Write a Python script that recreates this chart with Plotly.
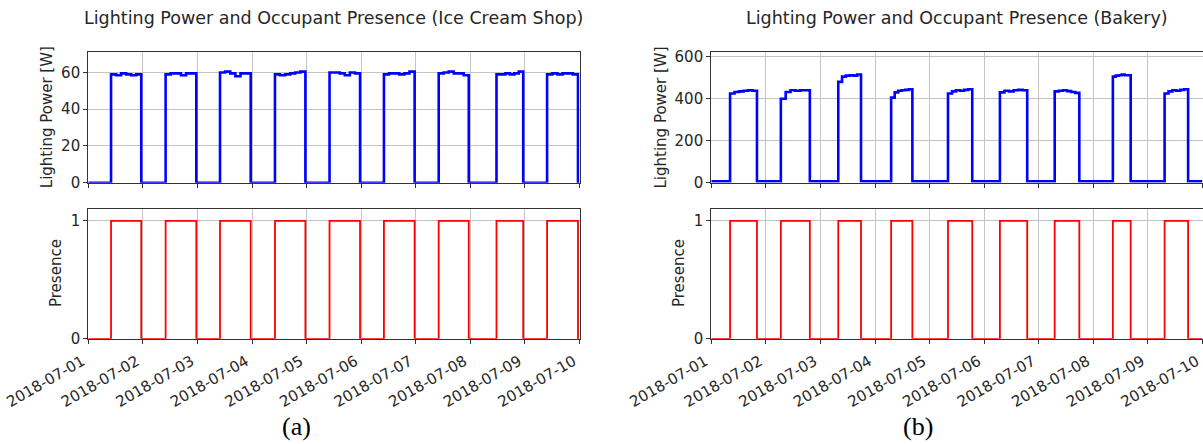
import plotly.graph_objects as go
import pandas as pd

# ---------------- data ----------------
days = ["2018-07-01", "2018-07-02", "2018-07-03", "2018-07-04", "2018-07-05",
        "2018-07-06", "2018-07-07", "2018-07-08", "2018-07-09"]
tick_labels = ["2018-07-01", "2018-07-02", "2018-07-03", "2018-07-04", "2018-07-05",
               "2018-07-06", "2018-07-07", "2018-07-08", "2018-07-09", "2018-07-10"]

# Ice cream shop: occupied periods (time of day on / off)
ice_on = ["10:00", "10:00", "09:55", "10:05", "10:05", "10:00", "10:05", "11:30", "09:45"]
ice_off = ["23:17", "23:30", "23:25", "23:28", "23:30", "23:30", "23:18", "23:15", "23:20"]
# lighting level samples across each occupied period [W]
ice_levels = [
    [59.0, 58.5, 59.5, 59.0, 58.5, 59.0],
    [59.0, 59.5, 59.5, 58.5, 59.5, 59.5],
    [60.0, 60.5, 59.5, 58.0, 59.5, 59.5],
    [59.0, 58.5, 59.0, 59.5, 60.0, 60.5],
    [60.0, 60.0, 59.5, 58.5, 60.0, 59.5],
    [59.0, 59.5, 59.5, 59.0, 59.5, 60.5],
    [59.5, 60.0, 60.5, 59.5, 59.5, 58.5],
    [59.0, 59.0, 59.5, 59.0, 59.5, 60.5],
    [59.0, 59.5, 59.0, 59.5, 59.5, 59.0],
]
ice_base = 0.0

# Bakery: occupied periods (time of day on / off)
bak_on = ["08:15", "06:35", "07:50", "07:05", "08:05", "06:55", "07:00", "08:35", "07:20"]
bak_off = ["20:05", "19:20", "17:50", "16:25", "18:45", "18:55", "17:50", "16:25", "17:40"]
bak_levels = [
    [425, 432, 435, 438, 440, 438],
    [400, 432, 440, 438, 440, 440],
    [480, 505, 510, 512, 510, 515],
    [405, 430, 438, 440, 442, 445],
    [425, 435, 440, 438, 442, 445],
    [430, 438, 435, 440, 442, 440],
    [435, 438, 440, 436, 432, 428],
    [505, 510, 512, 515, 512, 512],
    [425, 435, 440, 438, 442, 445],
]
bak_base = 7.0

period_end = "2018-07-10 00:00"


def build(on, off, levels, base):
    """Step series for lighting and presence from the read on/off table."""
    lx, ly, px, py = ["2018-07-01 00:00"], [base], ["2018-07-01 00:00"], [0]
    for d, t_on, t_off, lev in zip(days, on, off, levels):
        t0 = pd.Timestamp(f"{d} {t_on}")
        t1 = pd.Timestamp(f"{d} {t_off}")
        step = (t1 - t0) / len(lev)
        for k, v in enumerate(lev):
            lx.append(t0 + step * k)
            ly.append(v)
        lx.append(t1)
        ly.append(base)
        px += [t0, t1]
        py += [1, 0]
    lx.append(pd.Timestamp(period_end))
    ly.append(base)
    px.append(pd.Timestamp(period_end))
    py.append(0)
    return lx, ly, px, py


ice = build(ice_on, ice_off, ice_levels, ice_base)
bak = build(bak_on, bak_off, bak_levels, bak_base)

# ---------------- figure ----------------
W, H = 1203, 444
fig = go.Figure()

BLUE = "#0000ff"
RED = "#ff0000"

panels = [
    ("x", "y", ice[0], ice[1], BLUE),
    ("x2", "y2", ice[2], ice[3], RED),
    ("x3", "y3", bak[0], bak[1], BLUE),
    ("x4", "y4", bak[2], bak[3], RED),
]
for xa, ya, xs, ys, col in panels:
    fig.add_trace(go.Scatter(x=xs, y=ys, xaxis=xa, yaxis=ya, mode="lines",
                             line=dict(color=col, width=2.6 if col == BLUE else 1.8,
                                       shape="hv"),
                             showlegend=False, hoverinfo="skip"))

FONT = "DejaVu Sans"
TXT = "#262626"
GRID = "#c4c4c4"
TICK_SIZE = 15
LABEL_SIZE = 15
TITLE_SIZE = 17.5
tickvals = [pd.Timestamp(t) for t in tick_labels]

left_dom = [88.3 / W, 579.5 / W]
right_dom = [711.3 / W, 1202.5 / W]
top_dom = [1 - 182.7 / H, 1 - 52.3 / H]
bot_dom = [1 - 338.8 / H, 1 - 208.5 / H]


def xaxis(dom, anchor, labels):
    return dict(domain=dom, anchor=anchor, type="date", automargin=False,
                range=[tickvals[0], tickvals[-1]],
                tickmode="array", tickvals=tickvals,
                ticktext=tick_labels if labels else [""] * len(tick_labels),
                showticklabels=labels, tickangle=-30, ticklabeloverflow="allow",
                ticklabelshift=-6, ticklabelstandoff=3,
                ticks="outside", ticklen=4, tickwidth=1, tickcolor="#333",
                showgrid=True, gridcolor=GRID, gridwidth=1,
                showline=True, linecolor="#333", linewidth=1.2, mirror=True,
                zeroline=False,
                tickfont=dict(family=FONT, size=TICK_SIZE, color=TXT))


def yaxis(dom, anchor, rng, tv):
    return dict(domain=dom, anchor=anchor, range=rng, automargin=False,
                tickmode="array", tickvals=tv, ticklabeloverflow="allow",
                ticks="outside", ticklen=4, tickwidth=1, tickcolor="#333",
                showgrid=True, gridcolor=GRID, gridwidth=1,
                showline=True, linecolor="#333", linewidth=1.2, mirror=True,
                zeroline=False,
                tickfont=dict(family=FONT, size=TICK_SIZE, color=TXT))


fig.update_layout(
    width=W, height=H,
    margin=dict(l=0, r=0, t=0, b=0, autoexpand=False),
    paper_bgcolor="white", plot_bgcolor="white",
    xaxis=xaxis(left_dom, "y", False),
    yaxis=yaxis(top_dom, "x", [0, 71], [0, 20, 40, 60]),
    xaxis2=xaxis(left_dom, "y2", True),
    yaxis2=yaxis(bot_dom, "x2", [0, 1.105], [0, 1]),
    xaxis3=xaxis(right_dom, "y3", False),
    yaxis3=yaxis(top_dom, "x3", [0, 621], [0, 200, 400, 600]),
    xaxis4=xaxis(right_dom, "y4", True),
    yaxis4=yaxis(bot_dom, "x4", [0, 1.105], [0, 1]),
)

# y-axis titles
ytitles = [("Lighting Power [W]", 46.7, 117.5), ("Presence", 55.5, 273.5),
           ("Lighting Power [W]", 660.0, 117.5), ("Presence", 678.5, 273.5)]
for text, cx, cy in ytitles:
    fig.add_annotation(text=text, x=cx / W, y=1 - cy / H, xref="paper", yref="paper",
                       showarrow=False, xanchor="center", yanchor="middle", textangle=-90,
                       font=dict(family=FONT, size=LABEL_SIZE, color=TXT))

titles = [("Lighting Power and Occupant Presence (Ice Cream Shop)", (88.3 + 579.5) / 2),
          ("Lighting Power and Occupant Presence (Bakery)", (711.3 + 1202.5) / 2)]
for text, cx in titles:
    fig.add_annotation(text=text, x=cx / W, y=1 - 18 / H, xref="paper", yref="paper",
                       showarrow=False, xanchor="center", yanchor="middle",
                       font=dict(family=FONT, size=TITLE_SIZE, color=TXT))

for text, cx in [("(a)", 296), ("(b)", 918)]:
    fig.add_annotation(text=text, x=cx / W, y=1 - 426 / H, xref="paper", yref="paper",
                       showarrow=False, xanchor="center", yanchor="middle",
                       font=dict(family="Liberation Serif", size=26, color="black"))

fig.write_html("out.html")
